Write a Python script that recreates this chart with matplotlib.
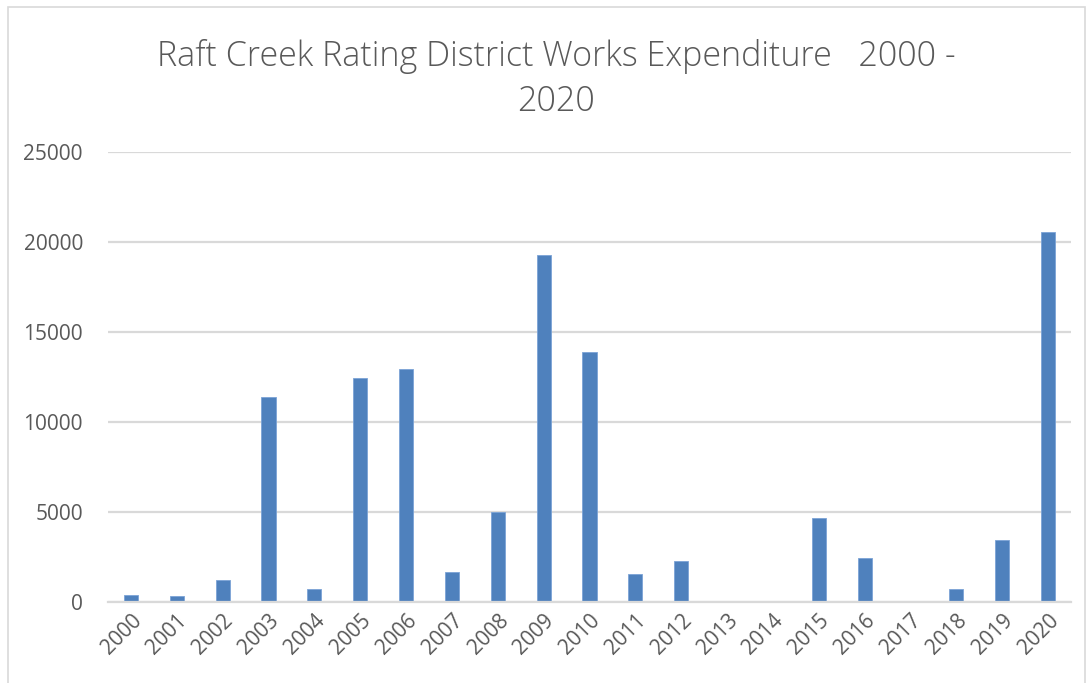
import matplotlib
matplotlib.use("Agg")
import matplotlib.pyplot as plt
from matplotlib.patches import Rectangle

years = ["2000", "2001", "2002", "2003", "2004", "2005", "2006", "2007", "2008", "2009",
         "2010", "2011", "2012", "2013", "2014", "2015", "2016", "2017", "2018", "2019", "2020"]
expenditure = [370, 320, 1190, 11370, 690, 12430, 12930, 1650, 4970, 19260,
               13870, 1540, 2260, 0, 0, 4670, 2450, 0, 710, 3430, 20560]
y_ticks = [0, 5000, 10000, 15000, 20000, 25000]
title = "Raft Creek Rating District Works Expenditure   2000 -\n2020"

plt.rcParams['font.family'] = ['Open Sans', 'DejaVu Sans']
W, H = 1091, 683
fig = plt.figure(figsize=(W / 100, H / 100), dpi=100)
fig.patch.set_facecolor("white")

ax = fig.add_axes([108 / W, 1 - 601.7 / H, (1071 - 108) / W, (601.7 - 152) / H])
x = list(range(len(years)))
ax.bar(x, expenditure, width=0.31, color="#4F81BD", edgecolor="#7BA3D6", linewidth=0.6, zorder=3)
ax.set_xlim(-0.5, len(years) - 0.5)
ax.set_ylim(0, 25000)
ax.set_yticks(y_ticks)
ax.set_yticklabels([str(v) for v in y_ticks])
ax.set_xticks(x)
ax.set_xticklabels(years, rotation=45, ha="right", rotation_mode="anchor")
ax.tick_params(axis="both", length=0, colors="#595959", labelsize=15)
ax.tick_params(axis="y", pad=18)
ax.tick_params(axis="x", pad=6)
ax.grid(axis="y", color="#D9D9D9", linewidth=1.6, zorder=0)
for s in ["top", "right", "left"]:
    ax.spines[s].set_visible(False)
ax.spines["bottom"].set_color("#D9D9D9")
ax.spines["bottom"].set_linewidth(1.6)
ax.spines["bottom"].set_zorder(4)

fig.text(556 / W, 1 - 79 / H, title, ha="center", va="center", fontsize=24.5,
         color="#595959", linespacing=1.4, fontweight="light")

# chart border
fig.add_artist(Rectangle((8 / W, -0.05), (1085 - 8) / W, 1 - 7 / H + 0.05,
                         transform=fig.transFigure, fill=False, edgecolor="#D9D9D9", linewidth=1.2))

fig.savefig("out.png", dpi=100, facecolor="white")
